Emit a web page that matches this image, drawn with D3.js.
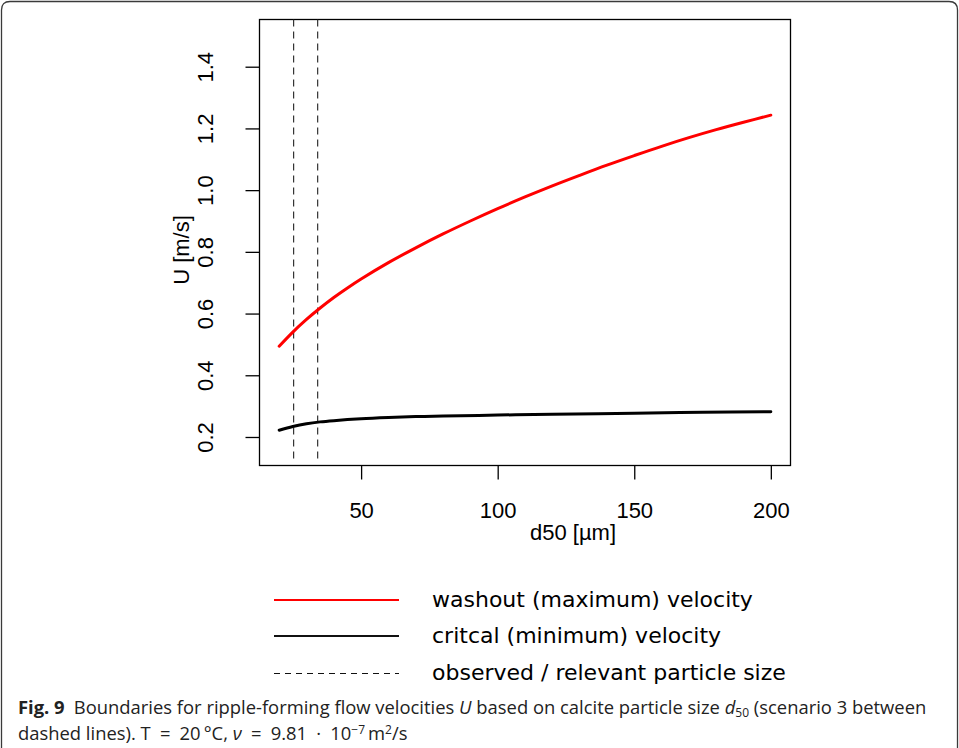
<!DOCTYPE html>
<html>
<head>
<meta charset="utf-8">
<script src="https://cdn.jsdelivr.net/npm/d3@7"></script>
<style>
  html, body { margin: 0; padding: 0; background: #fff; }
  svg { display: block; }
</style>
</head>
<body>
<svg id="chart" width="959" height="748"></svg>
<script>
// ---- data ----
const washoutD50 = [20, 25, 30, 35, 40, 45, 50, 60, 70, 80, 90, 100, 110, 120, 130, 140, 150, 160, 170, 180, 190, 200];
const washoutU   = [0.494, 0.540, 0.581, 0.618, 0.652, 0.683, 0.712, 0.765, 0.813, 0.858, 0.900, 0.940, 0.978, 1.014, 1.048, 1.081, 1.112, 1.142, 1.170, 1.196, 1.220, 1.243];
const criticalD50 = [20, 25, 30, 35, 40, 50, 60, 70, 80, 100, 120, 150, 175, 200];
const criticalU   = [0.222, 0.234, 0.243, 0.249, 0.253, 0.259, 0.263, 0.266, 0.268, 0.271, 0.274, 0.277, 0.280, 0.282];
const observedD50 = [25.3, 34.1];
const xTicks = [50, 100, 150, 200];
const yTicks = [0.2, 0.4, 0.6, 0.8, 1.0, 1.2, 1.4];
const legendLabels = ["washout (maximum) velocity", "critcal (minimum) velocity", "observed / relevant particle size"];
const xLabel = "d50 [µm]";
const yLabel = "U [m/s]";

const svg = d3.select("#chart");

// outer figure border (rounded top corners)
svg.append("path")
  .attr("d", "M1.5,748 V10 Q1.5,1.5 10,1.5 H949 Q957.5,1.5 957.5,10 V748")
  .attr("fill", "none").attr("stroke", "#3a3a3a").attr("stroke-width", 1.3);

const L = 259.5, R = 790.5, T = 19.5, B = 465.5;
const x = d3.scaleLinear().domain([12.8, 207.2]).range([L, R]);
const y = d3.scaleLinear().domain([0.1076, 1.553]).range([B, T]);

const axisFont = "'Liberation Sans', Arial, Helvetica, sans-serif";

// x axis
const gx = svg.append("g").attr("transform", `translate(0,${B})`)
  .call(d3.axisBottom(x).tickValues(xTicks).tickSize(14).tickSizeOuter(0).tickFormat(d3.format("d")));
gx.select(".domain").remove();
gx.selectAll(".tick line").attr("stroke", "#000").attr("stroke-width", 1.3);
gx.selectAll(".tick text").attr("y", 52).attr("dy", null)
  .attr("font-family", axisFont).attr("font-size", 22).attr("fill", "#000");

// y axis
const gy = svg.append("g").attr("transform", `translate(${L},0)`)
  .call(d3.axisLeft(y).tickValues(yTicks).tickSize(14).tickSizeOuter(0).tickFormat(d3.format(".1f")));
gy.select(".domain").remove();
gy.selectAll(".tick line").attr("stroke", "#000").attr("stroke-width", 1.3);
gy.selectAll(".tick text")
  .attr("x", 0).attr("y", 0).attr("dy", null)
  .attr("text-anchor", "middle")
  .attr("transform", "translate(-46.5,0) rotate(-90)")
  .attr("font-family", axisFont).attr("font-size", 22).attr("fill", "#000");

// plot box
svg.append("rect").attr("x", L).attr("y", T).attr("width", R - L).attr("height", B - T)
  .attr("fill", "none").attr("stroke", "#000").attr("stroke-width", 1.3);

// axis titles
svg.append("text").attr("x", 573).attr("y", 540).attr("text-anchor", "middle")
  .attr("font-family", axisFont).attr("font-size", 22).text(xLabel);
svg.append("text").attr("transform", "translate(189,250) rotate(-90)").attr("text-anchor", "middle")
  .attr("font-family", axisFont).attr("font-size", 22).text(yLabel);

// observed lines
svg.selectAll("line.obs").data(observedD50).enter().append("line")
  .attr("class", "obs")
  .attr("x1", d => x(d)).attr("x2", d => x(d))
  .attr("y1", T).attr("y2", B - 2)
  .attr("stroke", "#222").attr("stroke-width", 1.1).attr("stroke-dasharray", "7,5");

const line = d3.line().curve(d3.curveCatmullRom.alpha(0.5));
svg.append("path")
  .attr("d", line(washoutD50.map((d, i) => [x(d), y(washoutU[i])])))
  .attr("fill", "none").attr("stroke", "#ff0000").attr("stroke-width", 3).attr("stroke-linecap", "round");
svg.append("path")
  .attr("d", line(criticalD50.map((d, i) => [x(d), y(criticalU[i])])))
  .attr("fill", "none").attr("stroke", "#000").attr("stroke-width", 3).attr("stroke-linecap", "round");

// legend
const legY = [600, 636, 673.5];
const legStyles = [
  { color: "#ff0000", width: 2, dash: null },
  { color: "#111", width: 2, dash: null },
  { color: "#111", width: 1.2, dash: "6,5" }
];
const leg = svg.append("g");
legendLabels.forEach((lab, i) => {
  leg.append("line").attr("x1", 274).attr("x2", 399).attr("y1", legY[i]).attr("y2", legY[i])
    .attr("stroke", legStyles[i].color).attr("stroke-width", legStyles[i].width)
    .attr("stroke-dasharray", legStyles[i].dash);
  leg.append("text").attr("x", 432).attr("y", legY[i] + 6.5)
    .attr("font-family", "'DejaVu Sans', sans-serif").attr("font-size", 22).attr("fill", "#000")
    .text(lab);
});

// caption
const capFont = "'Open Sans', 'Noto Sans', sans-serif";
function buildCaption(fs) {
  svg.selectAll("text.cap").remove();
  const sub = Math.round(fs * 0.66);
  const c1 = svg.append("text").attr("class", "cap").attr("x", 18).attr("y", 714)
    .attr("font-family", capFont).attr("font-size", fs).attr("fill", "#222");
  c1.append("tspan").attr("font-weight", "bold").text("Fig. 9");
  c1.append("tspan").text("\u2002Boundaries for ripple-forming flow velocities ");
  c1.append("tspan").attr("font-style", "italic").text("U");
  c1.append("tspan").text(" based on calcite particle size ");
  c1.append("tspan").attr("font-style", "italic").text("d");
  c1.append("tspan").attr("font-size", sub).attr("dy", 3).text("50");
  c1.append("tspan").attr("dy", -3).text(" (scenario 3 between");

  const c2 = svg.append("text").attr("class", "cap").attr("x", 18).attr("y", 740)
    .attr("font-family", capFont).attr("font-size", fs).attr("fill", "#222");
  c2.append("tspan").text("dashed lines). T\u2002=\u200220\u2009°C, ");
  c2.append("tspan").attr("font-style", "italic").text("ν");
  c2.append("tspan").text("\u2002=\u20029.81\u2002·\u200210");
  c2.append("tspan").attr("font-size", sub).attr("dy", -6).text("−7");
  c2.append("tspan").attr("dy", 6).text("\u2009m");
  c2.append("tspan").attr("font-size", sub).attr("dy", -6).text("2");
  c2.append("tspan").attr("dy", 6).text("/s");
  return c1;
}
let fs = 19;
const w = buildCaption(fs).node().getComputedTextLength();
fs = Math.floor(fs * 910 / w * 10) / 10;
buildCaption(fs);
</script>
</body>
</html>
